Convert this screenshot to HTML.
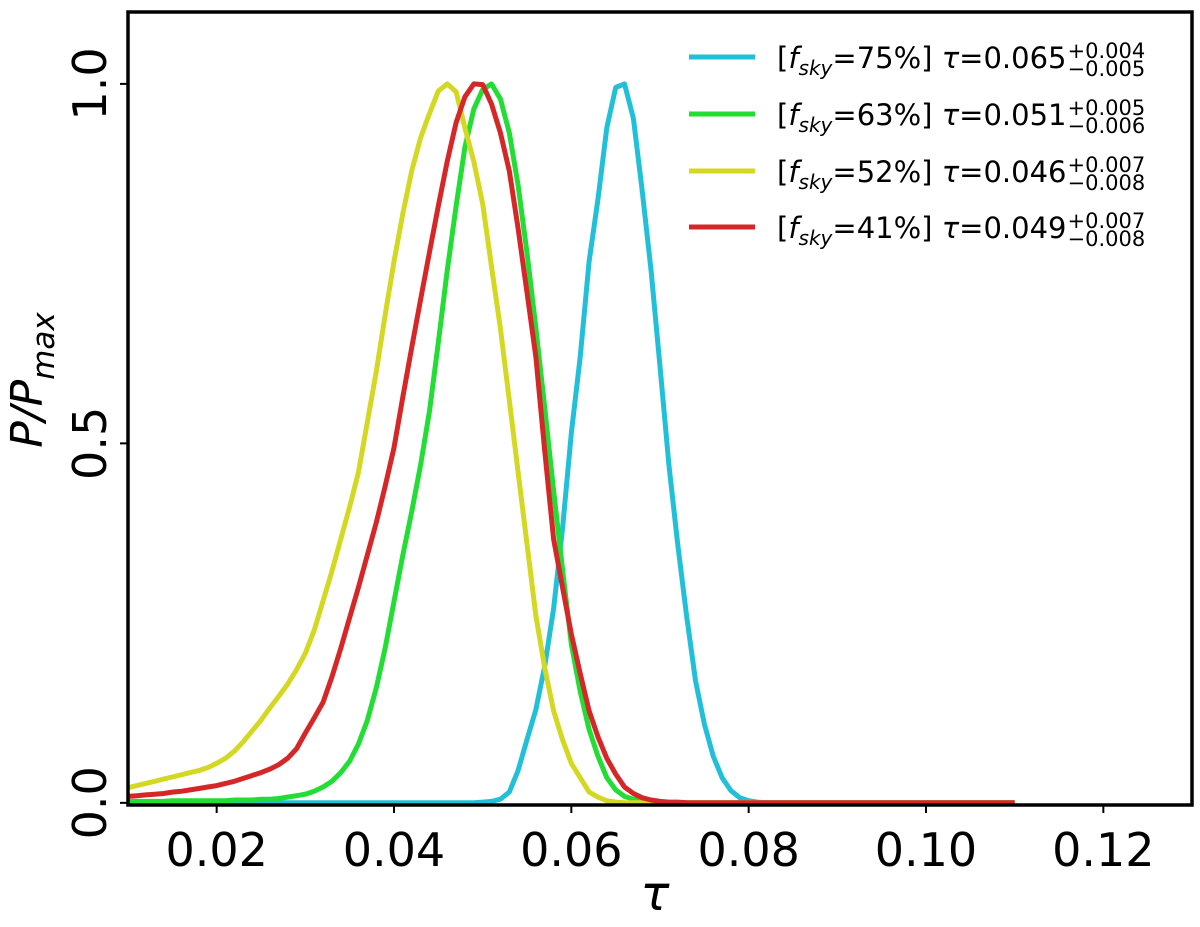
<!DOCTYPE html>
<html><head><meta charset="utf-8"><style>
html,body{margin:0;padding:0;background:#fff;}
svg{display:block;font-family:"DejaVu Sans","Liberation Sans",sans-serif;}
</style></head><body>
<svg id="chart" width="1200" height="927" viewBox="0 0 1200 927" xmlns="http://www.w3.org/2000/svg">
<g id="series-layer"></g>
<rect x="128" y="12" width="1064" height="793" fill="none" stroke="#000" stroke-width="3.5"/>
<g id="ticks"></g>
<text x="655" y="910" font-size="48" font-style="italic" text-anchor="middle">τ</text>
<text transform="translate(42,380) rotate(-90)" font-size="44" font-style="italic" text-anchor="middle">P/P<tspan font-size="31" dy="12">max</tspan></text>
<g id="legend"></g>
</svg>
<script>
const taus = [0.010,0.011,0.012,0.013,0.014,0.015,0.016,0.017,0.018,0.019,0.020,0.021,0.022,0.023,0.024,0.025,0.026,0.027,0.028,0.029,0.030,0.031,0.032,0.033,0.034,0.035,0.036,0.037,0.038,0.039,0.040,0.041,0.042,0.043,0.044,0.045,0.046,0.047,0.048,0.049,0.050,0.051,0.052,0.053,0.054,0.055,0.056,0.057,0.058,0.059,0.060,0.061,0.062,0.063,0.064,0.065,0.066,0.067,0.068,0.069,0.070,0.071,0.072,0.073,0.074,0.075,0.076,0.077,0.078,0.079,0.080,0.081,0.082,0.083,0.084,0.085,0.086,0.087,0.088,0.089,0.090,0.091,0.092,0.093,0.094,0.095,0.096,0.097,0.098,0.099,0.100,0.101,0.102,0.103,0.104,0.105,0.106,0.107,0.108,0.109,0.110];
const cyanVals = [0,0,0,0,0,0,0,0,0,0, 0,0,0,0,0,0,0,0,0,0, 0,0,0,0,0,0,0,0,0,0, 0,0,0,0,0,0,0,0,0,0, 0.001,0.002,0.005,0.015,0.045,0.088,0.13,0.19,0.27,0.381, 0.514,0.62,0.753,0.839,0.939,0.995,1.0,0.952,0.85,0.74, 0.607,0.47,0.36,0.26,0.17,0.11,0.065,0.035,0.017,0.007, 0.003,0.001,0,0,0,0,0,0,0,0, 0,0,0,0,0,0,0,0,0,0, 0,0,0,0,0,0,0,0,0,0, 0];
const greenVals = [0.002,0.002,0.002,0.002,0.002,0.003,0.003,0.003,0.003,0.003, 0.003,0.003,0.004,0.004,0.004,0.005,0.005,0.006,0.008,0.010, 0.012,0.016,0.022,0.030,0.042,0.058,0.082,0.115,0.160,0.215, 0.280,0.345,0.405,0.470,0.545,0.640,0.740,0.830,0.912,0.965, 0.992,1.000,0.979,0.932,0.859,0.765,0.660,0.550,0.434,0.325, 0.221,0.155,0.102,0.065,0.035,0.018,0.009,0.005,0.002,0.001, 0,0,0,0,0,0,0,0,0,0, 0,0,0,0,0,0,0,0,0,0, 0,0,0,0,0,0,0,0,0,0, 0,0,0,0,0,0,0,0,0,0, 0];
const yellowVals = [0.021,0.024,0.027,0.030,0.033,0.036,0.039,0.042,0.045,0.049, 0.055,0.062,0.072,0.085,0.100,0.115,0.132,0.148,0.165,0.185, 0.208,0.240,0.281,0.322,0.367,0.412,0.460,0.530,0.600,0.678, 0.753,0.820,0.879,0.925,0.959,0.990,1.000,0.989,0.939,0.892, 0.833,0.746,0.660,0.560,0.460,0.360,0.260,0.188,0.128,0.088, 0.055,0.035,0.015,0.008,0.003,0.001,0,0,0,0, 0,0,0,0,0,0,0,0,0,0, 0,0,0,0,0,0,0,0,0,0, 0,0,0,0,0,0,0,0,0,0, 0,0,0,0,0,0,0,0,0,0, 0];
const redVals = [0.009,0.010,0.011,0.012,0.013,0.015,0.016,0.018,0.020,0.022, 0.024,0.027,0.030,0.034,0.038,0.042,0.047,0.053,0.062,0.075, 0.097,0.118,0.140,0.175,0.215,0.258,0.300,0.345,0.390,0.440, 0.494,0.565,0.633,0.700,0.766,0.830,0.892,0.946,0.982,1.000, 0.999,0.972,0.932,0.879,0.799,0.710,0.620,0.490,0.367,0.300, 0.235,0.180,0.128,0.092,0.062,0.040,0.022,0.013,0.007,0.004, 0.002,0.001,0.001,0,0,0,0,0,0,0, 0,0,0,0,0,0,0,0,0,0, 0,0,0,0,0,0,0,0,0,0, 0,0,0,0,0,0,0,0,0,0, 0];
const xTicks = [0.02,0.04,0.06,0.08,0.10,0.12];
const xTickLabels = ["0.02","0.04","0.06","0.08","0.10","0.12"];
const yTicks = [0.0,0.5,1.0];
const yTickLabels = ["0.0","0.5","1.0"];
const legendLabels = ["75%","63%","52%","41%"];
const legendTau = ["0.065","0.051","0.046","0.049"];
const legendPlus = ["+0.004","+0.005","+0.007","+0.007"];
const legendMinus = ["\u22120.005","\u22120.006","\u22120.008","\u22120.008"];

const NS = "http://www.w3.org/2000/svg";
const X0=128, X1=1192, Y0=805, Y1=12, XMIN=0.01, XMAX=0.13, YMIN=-0.003, YMAX=1.1;
function xs(v){return X0+(v-XMIN)/(XMAX-XMIN)*(X1-X0);}
function ys(v){return Y0-(v-YMIN)/(YMAX-YMIN)*(Y0-Y1);}

const series = [
  {name:"series-fsky-75", vals:cyanVals, color:"#22c0d8"},
  {name:"series-fsky-63", vals:greenVals, color:"#22dd33"},
  {name:"series-fsky-52", vals:yellowVals, color:"#d4d822"},
  {name:"series-fsky-41", vals:redVals, color:"#d62728"}
];
const layer = document.getElementById("series-layer");
series.forEach(s=>{
  const p = document.createElementNS(NS,"polyline");
  
  
  p.setAttribute("points", s.vals.map((v,i)=>xs(taus[i]).toFixed(1)+","+ys(v).toFixed(1)).join(" "));
  p.setAttribute("fill","none");
  p.setAttribute("stroke",s.color);
  p.setAttribute("stroke-width","5");
  p.setAttribute("stroke-linejoin","round");
  layer.appendChild(p);
});

const tg = document.getElementById("ticks");
xTicks.forEach((t,i)=>{
  const l = document.createElementNS(NS,"line");
  
  
  l.setAttribute("x1",xs(t)); l.setAttribute("x2",xs(t));
  l.setAttribute("y1",Y0); l.setAttribute("y2",Y0+8);
  l.setAttribute("stroke","#000"); l.setAttribute("stroke-width","2");
  tg.appendChild(l);
  const tx = document.createElementNS(NS,"text");
  
  
  tx.setAttribute("x",xs(t)); tx.setAttribute("y",866);
  tx.setAttribute("font-size","46"); tx.setAttribute("text-anchor","middle");
  tx.textContent = xTickLabels[i];
  tg.appendChild(tx);
});
yTicks.forEach((t,i)=>{
  const l = document.createElementNS(NS,"line");
  
  
  l.setAttribute("x1",X0-8); l.setAttribute("x2",X0);
  l.setAttribute("y1",ys(t)); l.setAttribute("y2",ys(t));
  l.setAttribute("stroke","#000"); l.setAttribute("stroke-width","2");
  tg.appendChild(l);
  const tx = document.createElementNS(NS,"text");
  
  
  tx.setAttribute("transform","translate(106,"+ys(t)+") rotate(-90)");
  tx.setAttribute("font-size","46"); tx.setAttribute("text-anchor","middle");
  tx.textContent = yTickLabels[i];
  tg.appendChild(tx);
});

const lg = document.getElementById("legend");
const legendY = [57,114,171,227];
series.forEach((s,i)=>{
  const y = legendY[i];
  const l = document.createElementNS(NS,"line");
  
  
  l.setAttribute("x1",689); l.setAttribute("x2",755);
  l.setAttribute("y1",y); l.setAttribute("y2",y);
  l.setAttribute("stroke",s.color); l.setAttribute("stroke-width","5");
  lg.appendChild(l);
  const t = document.createElementNS(NS,"text");
  
  
  t.setAttribute("x",777); t.setAttribute("y",y+11);
  t.setAttribute("font-size","29");
  t.innerHTML = '[<tspan font-style="italic">f</tspan><tspan font-style="italic" font-size="20" dy="7">sky</tspan><tspan dy="-7">='+legendLabels[i]+'] </tspan><tspan font-style="italic">τ</tspan>=' + legendTau[i];
  lg.appendChild(t);
  let endX = 1083;
  try { const bb = t.getBBox(); if (bb.width > 0) endX = bb.x + bb.width + 1; } catch(e) {}
  const sp = document.createElementNS(NS,"text");
  
  
  sp.setAttribute("x",endX); sp.setAttribute("y",y+1);
  sp.setAttribute("font-size","21");
  sp.textContent = legendPlus[i];
  lg.appendChild(sp);
  const sb = document.createElementNS(NS,"text");
  
  
  sb.setAttribute("x",endX); sb.setAttribute("y",y+19);
  sb.setAttribute("font-size","21");
  sb.textContent = legendMinus[i];
  lg.appendChild(sb);
});
</script>
</body></html>
